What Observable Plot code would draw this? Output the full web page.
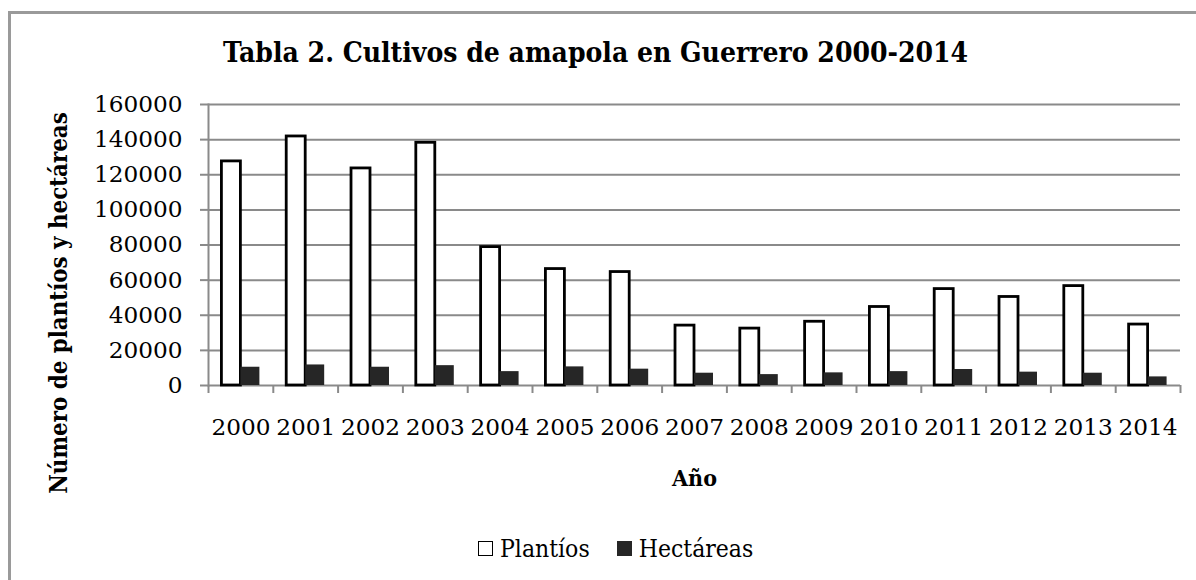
<!DOCTYPE html>
<html>
<head>
<meta charset="utf-8">
<script src="https://cdn.jsdelivr.net/npm/d3@7"></script>
<script src="https://cdn.jsdelivr.net/npm/@observablehq/plot@0.6"></script>
<style>
  html, body { margin: 0; padding: 0; background: #fff; overflow: hidden; }
  #wrap { position: relative; width: 1196px; height: 580px; overflow: hidden; background: #fff; }
  #border { position: absolute; left: 8px; top: 11px; width: 1300px; height: 700px; border: 3px solid #9a9a9a; box-sizing: border-box; }
  #chart { position: absolute; left: 0; top: 0; }
  #legend { position: absolute; left: 478px; top: 534px; font-family: "DejaVu Serif Condensed", "DejaVu Serif"; font-stretch: condensed; font-size: 24.5px; color: #000; display: flex; align-items: center; white-space: nowrap; }
  .sw { display: inline-block; width: 15px; height: 15px; box-sizing: border-box; margin-right: 7px; }
  .item { display: flex; align-items: center; }
</style>
</head>
<body>
<div id="wrap">
  <div id="border"></div>
  <div id="chart"></div>
  <div id="legend"></div>
</div>
<script>
const years = ["2000","2001","2002","2003","2004","2005","2006","2007","2008","2009","2010","2011","2012","2013","2014"];
const plantios = [127600, 141800, 123600, 138200, 78800, 66300, 64600, 34100, 32400, 36300, 44700, 54900, 50400, 56600, 34700];
const hectareas = [10400, 11700, 10400, 11300, 7900, 10600, 9300, 7000, 6200, 7200, 7900, 9100, 7600, 7000, 4900];
const yTicks = [0, 20000, 40000, 60000, 80000, 100000, 120000, 140000, 160000];
const seriesNames = ["Plantíos", "Hectáreas"];
const title = "Tabla 2. Cultivos de amapola en Guerrero 2000-2014";
const yLabel = "Número de plantíos y hectáreas";
const xLabel = "Año";

const data = years.map((year, i) => ({year, plantios: plantios[i], hectareas: hectareas[i]}));

const W = 1196, H = 580, ML = 208, MR = 16, MT = 104, MB = 195;
const band = (W - ML - MR) / years.length;
const gridColor = "#8a8a8a";
const condensed = "'DejaVu Serif Condensed', 'DejaVu Serif'";

const chart = Plot.plot({
  width: W, height: H,
  marginLeft: ML, marginRight: MR, marginTop: MT, marginBottom: MB,
  style: { fontFamily: "DejaVu Serif", fontSize: "23.2px", color: "#000", background: "transparent", overflow: "visible" },
  x: { type: "band", domain: years, padding: 0, round: false, axis: null },
  y: { domain: [0, 160000], axis: null },
  marks: [
    Plot.gridY(yTicks, { stroke: gridColor, strokeOpacity: 1, strokeWidth: 2 }),
    Plot.frame({ anchor: "left", stroke: gridColor, strokeWidth: 2 }),
    Plot.axisY({ ticks: yTicks, tickSize: 8, tickPadding: 18, stroke: gridColor, strokeWidth: 2, strokeOpacity: 1, fill: "#000", label: null, tickFormat: d => String(d) }),
    Plot.axisX({ tickSize: 0, tickPadding: 33, fill: "#000", label: null }),
    Plot.axisX({ tickSize: 8, tickFormat: () => "", dx: -band / 2, stroke: gridColor, strokeWidth: 2, strokeOpacity: 1, label: null }),
    Plot.axisX({ ticks: [years[years.length - 1]], tickSize: 8, tickFormat: () => "", dx: band / 2, stroke: gridColor, strokeWidth: 2, strokeOpacity: 1, label: null }),
    Plot.barY(data, { x: "year", y: "plantios", fill: "white", stroke: "black", strokeWidth: 2.8, insetLeft: band * 0.207, insetRight: band * 0.5, ariaLabel: "plantios" }),
    Plot.barY(data, { x: "year", y: "hectareas", fill: "#262626", insetLeft: band * 0.5, insetRight: band * 0.207, ariaLabel: "hectareas" }),
    Plot.text([title], { frameAnchor: "top", lineAnchor: "middle", dx: -99, dy: -51, fontWeight: "bold", fontSize: 28, fontFamily: condensed, fill: "#000" }),
    Plot.text([yLabel], { frameAnchor: "left", textAnchor: "middle", lineAnchor: "middle", dx: -149, dy: 58, rotate: -90, fontWeight: "bold", fontSize: 23.8, fontFamily: condensed, fill: "#000" }),
    Plot.text([xLabel], { frameAnchor: "bottom", lineAnchor: "middle", dy: 93, fontWeight: "bold", fontSize: 23, fontFamily: condensed, fill: "#000" })
  ]
});
const pb = chart.querySelector('g[aria-label="plantios"]');
if (pb) pb.style.filter = "drop-shadow(2px 1px 2px rgba(0,0,0,0.25))";
document.getElementById("chart").appendChild(chart);

const legend = document.getElementById("legend");
const styles = [
  { background: "#fff", border: "1.8px solid #000" },
  { background: "#262626", border: "none" }
];
seriesNames.forEach((name, i) => {
  const item = document.createElement("span");
  item.className = "item";
  if (i > 0) item.style.marginLeft = "27px";
  const sw = document.createElement("span");
  sw.className = "sw";
  sw.style.background = styles[i].background;
  sw.style.border = styles[i].border;
  item.appendChild(sw);
  const t = document.createElement("span");
  t.textContent = name;
  item.appendChild(t);
  legend.appendChild(item);
});
</script>
</body>
</html>
